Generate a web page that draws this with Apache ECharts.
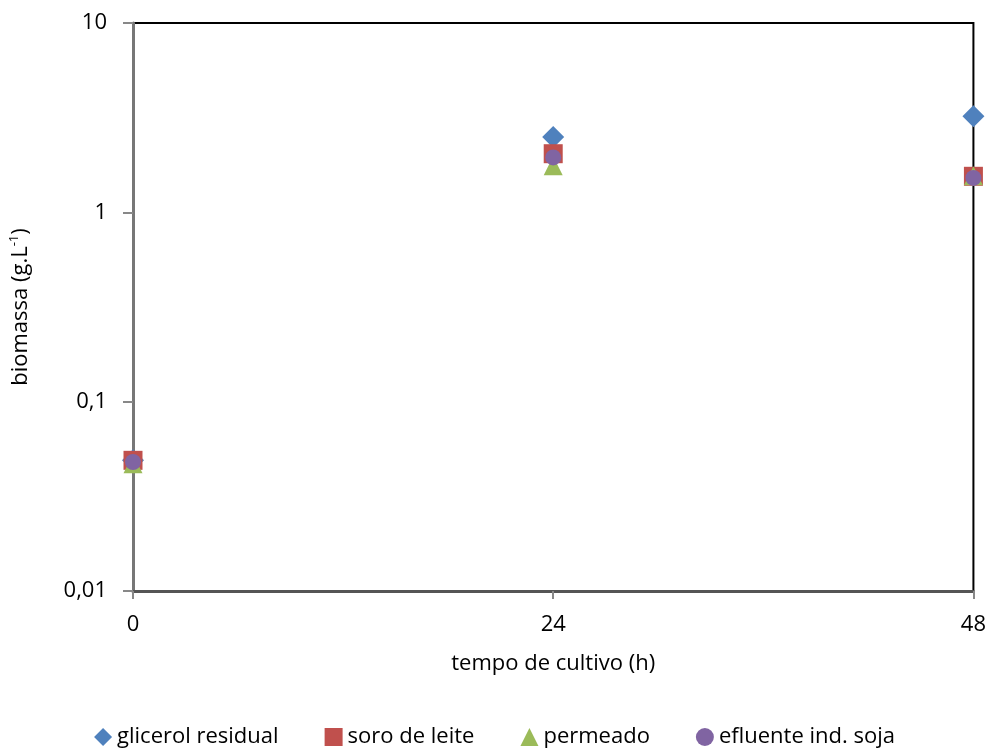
<!DOCTYPE html>
<html>
<head>
<meta charset="utf-8">
<script src="https://cdn.jsdelivr.net/npm/echarts@6/dist/echarts.min.js"></script>
<style>
  html, body { margin: 0; padding: 0; background: #fff; }
  #main { width: 989px; height: 749px; }
</style>
</head>
<body>
<div id="main"></div>
<script>
// horas de cultivo
var tempos = [0, 24, 48];
var glicerol = [0.049, 2.5, 3.22];
var soroLeite = [0.049, 2.04, 1.55];
var permeado = [0.047, 1.76, 1.56];
var efluente = [0.048, 1.95, 1.52];
var yTicks = [0.01, 0.1, 1, 10];

var fonte = 'Open Sans';

function pares(vals) {
  return vals.map(function (v, i) { return [tempos[i], v]; });
}

var myChart = echarts.init(document.getElementById('main'));

var option = {
  animation: false,
  textStyle: { fontFamily: fonte },
  grid: {
    left: 129, right: 14, top: 23, bottom: 158,
    show: true, borderColor: '#000', borderWidth: 2
  },
  legend: {
    top: 721,
    left: 'center',
    itemGap: 46,
    itemWidth: 18,
    itemHeight: 18,
    textStyle: { fontSize: 22, color: '#000', fontFamily: fonte },
    data: [
      { name: 'glicerol residual', icon: 'diamond' },
      { name: 'soro de leite', icon: 'rect' },
      { name: 'permeado', icon: 'triangle' },
      { name: 'efluente ind. soja', icon: 'circle' }
    ]
  },
  xAxis: {
    type: 'value',
    min: 0, max: 48, interval: 24,
    name: 'tempo de cultivo (h)',
    nameLocation: 'middle',
    nameGap: 62,
    nameTextStyle: { fontSize: 22, color: '#000', fontFamily: fonte },
    axisLine: { lineStyle: { color: '#555', width: 3 } },
    axisTick: { show: true, length: 8, lineStyle: { color: '#888', width: 2 } },
    axisLabel: { fontSize: 22, color: '#000', margin: 23, fontFamily: fonte },
    splitLine: { show: false }
  },
  yAxis: {
    type: 'log',
    logBase: 10,
    min: yTicks[0], max: yTicks[yTicks.length - 1],
    name: '{a|biomassa (g.L}{s|-1}{a|)}',
    nameLocation: 'middle',
    nameGap: 100,
    nameRotate: 90,
    nameTextStyle: {
      rich: {
        a: { fontSize: 22, color: '#000', fontFamily: fonte },
        s: { fontSize: 13, color: '#000', fontFamily: fonte, verticalAlign: 'top', padding: [0, 0, 12, 0] }
      }
    },
    axisLine: { show: true, lineStyle: { color: '#777', width: 3 } },
    axisTick: { show: true, length: 10, lineStyle: { color: '#888', width: 2 } },
    minorTick: { show: false },
    axisLabel: {
      fontSize: 22, color: '#000', margin: 26, fontFamily: fonte,
      formatter: function (v) { return String(v).replace('.', ','); }
    },
    splitLine: { show: false }
  },
  series: [
    {
      name: 'glicerol residual', type: 'scatter', symbol: 'diamond', symbolSize: 22,
      itemStyle: { color: '#4F81BD', opacity: 1 }, data: pares(glicerol)
    },
    {
      name: 'soro de leite', type: 'scatter', symbol: 'rect', symbolSize: 19,
      itemStyle: { color: '#C0504D', opacity: 1 }, data: pares(soroLeite)
    },
    {
      name: 'permeado', type: 'scatter', symbol: 'triangle', symbolSize: 19,
      itemStyle: { color: '#9BBB59', opacity: 1 }, data: pares(permeado)
    },
    {
      name: 'efluente ind. soja', type: 'scatter', symbol: 'circle', symbolSize: 16,
      itemStyle: { color: '#8064A2', opacity: 1 }, data: pares(efluente)
    }
  ]
};

myChart.setOption(option);
</script>
</body>
</html>
